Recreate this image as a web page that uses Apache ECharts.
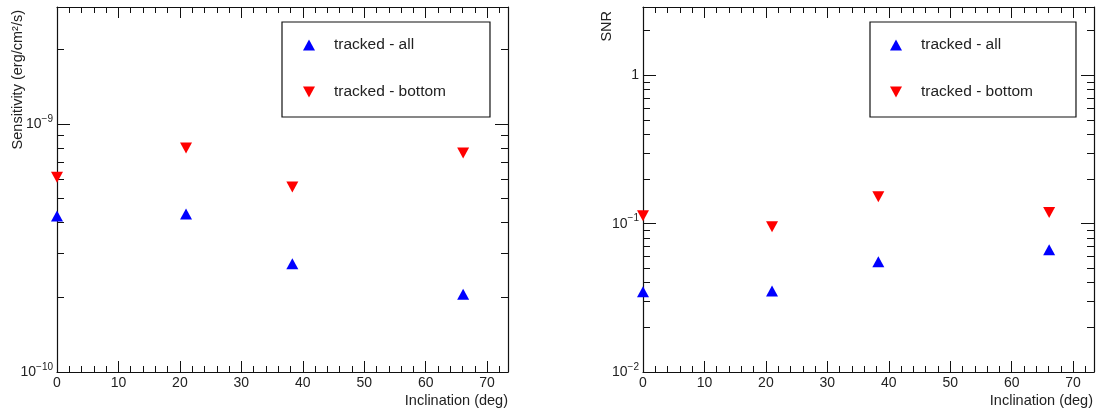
<!DOCTYPE html>
<html>
<head>
<meta charset="utf-8">
<title>Sensitivity and SNR vs inclination</title>
<script src="https://cdn.jsdelivr.net/npm/echarts@6/dist/echarts.min.js"></script>
<style>
  html, body { margin: 0; padding: 0; background: #fff; }
  #chart { width: 1099px; height: 417px; }
</style>
</head>
<body>
<div id="chart"></div>
<script>
// inclination of the four configurations (deg)
const inclination = [0, 21, 38.3, 66.1]

// left pad: sensitivity (erg/cm2/s)
const sensAll = [4.26e-10, 4.34e-10, 2.73e-10, 2.06e-10]
const sensBottom = [6.1e-10, 8.0e-10, 5.57e-10, 7.64e-10]

// right pad: SNR
const snrAll = [0.0347, 0.0351, 0.0553, 0.0667]
const snrBottom = [0.113, 0.0955, 0.152, 0.119]

const seriesNames = ['tracked - all', 'tracked - bottom']

// axis ranges and ticks
const xRange = [0, 73.4]
const xMajor = [0, 10, 20, 30, 40, 50, 60, 70]
const xMinor = [2, 4, 6, 8, 12, 14, 16, 18, 22, 24, 26, 28, 32, 34, 36, 38,
  42, 44, 46, 48, 52, 54, 56, 58, 62, 64, 66, 68, 72]

const sensRange = [1e-10, 2.965e-9]
const sensMajor = [1e-10, 1e-9]
const sensMinor = [2e-10, 3e-10, 4e-10, 5e-10, 6e-10, 7e-10, 8e-10, 9e-10, 2e-9]

const snrRange = [0.01, 2.89]
const snrMajor = [0.01, 0.1, 1]
const snrMinor = [0.02, 0.03, 0.04, 0.05, 0.06, 0.07, 0.08, 0.09,
  0.2, 0.3, 0.4, 0.5, 0.6, 0.7, 0.8, 0.9, 2]

const FONT = 'Liberation Sans, Arial, Helvetica, sans-serif'
const INK = '#111'
const TEXT = '#222'

function pairs(xs, ys) {
  return xs.map((x, i) => [x, ys[i]])
}

function powerLabel(v) {
  const e = Math.round(Math.log10(v))
  if (e === 0) {
    return '1'
  }
  return '10{sup|' + (e < 0 ? '\u2212' : '') + Math.abs(e) + '}'
}

// ROOT style frame: major + minor ticks on all four sides, pointing inwards
function xAxes(grid) {
  const base = {
    gridIndex: grid,
    type: 'value',
    min: xRange[0],
    max: xRange[1],
    splitLine: { show: false },
    axisLine: { show: false, onZero: false }
  }
  return [
    Object.assign({}, base, {
      position: 'bottom',
      axisLine: { show: true, onZero: false, lineStyle: { color: INK, width: 1.2 } },
      axisTick: { inside: true, length: 11, customValues: xMajor, lineStyle: { color: INK } },
      axisLabel: { customValues: xMajor, margin: 4, fontSize: 14, color: TEXT, fontFamily: FONT }
    }),
    Object.assign({}, base, {
      position: 'bottom',
      axisTick: { inside: true, length: 6, customValues: xMinor, lineStyle: { color: INK } },
      axisLabel: { show: false }
    }),
    Object.assign({}, base, {
      position: 'top',
      axisLine: { show: true, onZero: false, lineStyle: { color: INK, width: 1.2 } },
      axisTick: { inside: true, length: 11, customValues: xMajor, lineStyle: { color: INK } },
      axisLabel: { show: false }
    }),
    Object.assign({}, base, {
      position: 'top',
      axisTick: { inside: true, length: 6, customValues: xMinor, lineStyle: { color: INK } },
      axisLabel: { show: false }
    })
  ]
}

function yAxes(grid, range, major, minor) {
  const base = {
    gridIndex: grid,
    type: 'log',
    logBase: 10,
    min: range[0],
    max: range[1],
    splitLine: { show: false },
    axisLine: { show: false, onZero: false }
  }
  return [
    Object.assign({}, base, {
      position: 'left',
      axisLine: { show: true, onZero: false, lineStyle: { color: INK, width: 1.2 } },
      axisTick: { inside: true, length: 13, customValues: major, lineStyle: { color: INK } },
      axisLabel: {
        customValues: major,
        margin: 4,
        fontSize: 14,
        color: TEXT,
        fontFamily: FONT,
        formatter: powerLabel,
        rich: {
          sup: { fontSize: 10, color: TEXT, fontFamily: FONT, padding: [0, 0, 10, 0] }
        }
      }
    }),
    Object.assign({}, base, {
      position: 'left',
      axisTick: { inside: true, length: 7, customValues: minor, lineStyle: { color: INK } },
      axisLabel: { show: false }
    }),
    Object.assign({}, base, {
      position: 'right',
      axisLine: { show: true, onZero: false, lineStyle: { color: INK, width: 1.2 } },
      axisTick: { inside: true, length: 13, customValues: major, lineStyle: { color: INK } },
      axisLabel: { show: false }
    }),
    Object.assign({}, base, {
      position: 'right',
      axisTick: { inside: true, length: 7, customValues: minor, lineStyle: { color: INK } },
      axisLabel: { show: false }
    })
  ]
}

function legendAt(left, padding) {
  return {
    orient: 'vertical',
    left: left,
    top: 22,
    padding: padding,
    itemGap: 31,
    itemWidth: 12,
    itemHeight: 11,
    backgroundColor: '#fff',
    borderColor: INK,
    borderWidth: 1.2,
    selectedMode: false,
    textStyle: { fontSize: 15.5, color: TEXT, fontFamily: FONT, lineHeight: 16, padding: [0, 0, 0, 14] },
    data: [
      { name: seriesNames[0], icon: 'triangle' },
      { name: seriesNames[1], icon: 'path://M0,0L12,0L6,11Z' }
    ]
  }
}

function markerSeries(name, xIdx, yIdx, data, up) {
  return {
    name: name,
    type: 'scatter',
    xAxisIndex: xIdx,
    yAxisIndex: yIdx,
    clip: false,
    symbol: 'triangle',
    symbolRotate: up ? 0 : 180,
    symbolSize: [12, 11],
    itemStyle: { color: up ? '#0000ff' : '#ff0000', opacity: 1 },
    data: data
  }
}

const chart = echarts.init(document.getElementById('chart'), null, { renderer: 'canvas' })

chart.setOption({
  animation: false,
  backgroundColor: '#fff',
  textStyle: { fontFamily: FONT },
  grid: [
    { left: 57, right: 591, top: 7, bottom: 45 },
    { left: 643, right: 5, top: 7, bottom: 45 }
  ],
  legend: [
    legendAt(282, [15, 44, 17, 21]),
    legendAt(870, [15, 43, 17, 20])
  ],
  xAxis: xAxes(0).concat(xAxes(1)),
  yAxis: yAxes(0, sensRange, sensMajor, sensMinor).concat(yAxes(1, snrRange, snrMajor, snrMinor)),
  graphic: [
    {
      type: 'text', x: 18, y: 10, rotation: Math.PI / 2,
      style: { text: 'Sensitivity (erg/cm\u00b2/s)', fontSize: 14.5, fontFamily: FONT, fill: TEXT, align: 'right', verticalAlign: 'middle' }
    },
    {
      type: 'text', x: 607, y: 11, rotation: Math.PI / 2,
      style: { text: 'SNR', fontSize: 14.5, fontFamily: FONT, fill: TEXT, align: 'right', verticalAlign: 'middle' }
    },
    {
      type: 'text', x: 508, y: 401,
      style: { text: 'Inclination (deg)', fontSize: 14.5, fontFamily: FONT, fill: TEXT, align: 'right', verticalAlign: 'middle' }
    },
    {
      type: 'text', x: 1093, y: 401,
      style: { text: 'Inclination (deg)', fontSize: 14.5, fontFamily: FONT, fill: TEXT, align: 'right', verticalAlign: 'middle' }
    }
  ],
  series: [
    markerSeries(seriesNames[0], 0, 0, pairs(inclination, sensAll), true),
    markerSeries(seriesNames[1], 0, 0, pairs(inclination, sensBottom), false),
    markerSeries(seriesNames[0], 4, 4, pairs(inclination, snrAll), true),
    markerSeries(seriesNames[1], 4, 4, pairs(inclination, snrBottom), false)
  ]
})
</script>
</body>
</html>
